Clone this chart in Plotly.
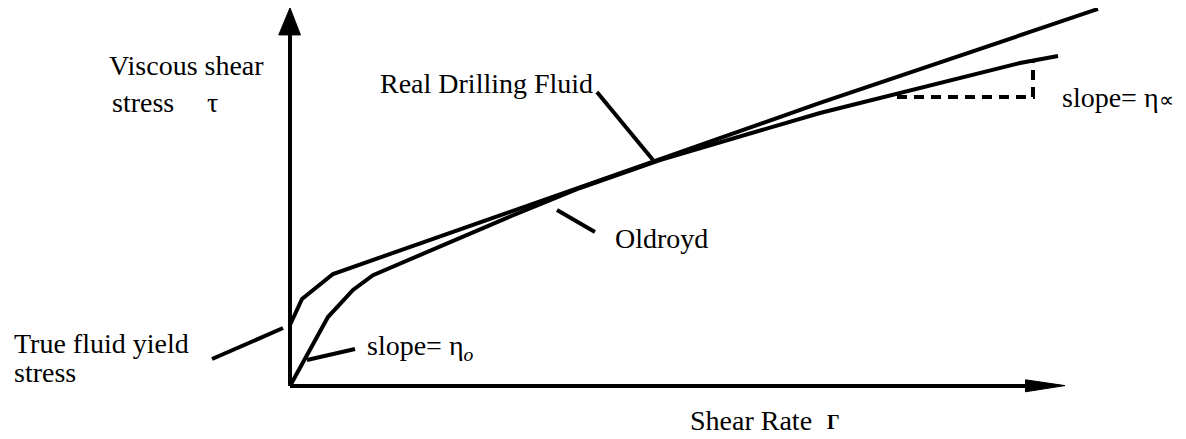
import plotly.graph_objects as go

# Curve readings (arbitrary units: shear rate on x, viscous shear stress on y)
real_x = [0, 1.55, 5.55, 28.0, 68.39, 104.26]
real_y = [7.87, 11.23, 14.45, 22.32, 36.52, 48.65]

oldroyd_x = [0, 4.9, 8.13, 10.71, 28.0, 37.42, 47.74, 68.39, 94.19, 99.10]
oldroyd_y = [0, 8.9, 12.39, 14.3, 21.7, 25.55, 29.16, 35.23, 41.68, 42.58]

# slope triangle (eta infinity) on the Oldroyd curve
tri_x = [78.32, 95.87, 95.87]
tri_y = [37.29, 37.29, 41.81]

FONT = "Liberation Serif, Times New Roman, serif"
BLACK = "#000000"
LW = 4

fig = go.Figure()
fig.add_trace(go.Scatter(x=real_x, y=real_y, mode="lines", name="Real Drilling Fluid",
                         line=dict(color=BLACK, width=LW), hoverinfo="skip"))
fig.add_trace(go.Scatter(x=oldroyd_x, y=oldroyd_y, mode="lines", name="Oldroyd",
                         line=dict(color=BLACK, width=LW), hoverinfo="skip"))
fig.add_trace(go.Scatter(x=tri_x, y=tri_y, mode="lines", name="slope",
                         line=dict(color=BLACK, width=LW, dash="10px,7px"), hoverinfo="skip"))

shapes = []
# axes
shapes.append(dict(type="line", xref="x", yref="y", x0=0, y0=0, x1=0, y1=45.6,
                   line=dict(color=BLACK, width=LW)))
shapes.append(dict(type="path", xref="x", yref="y",
                   path="M -1.45,45.3 L 1.35,45.3 L 0,48.8 Z",
                   fillcolor=BLACK, line=dict(color=BLACK, width=1)))
shapes.append(dict(type="line", xref="x", yref="y", x0=0, y0=0, x1=95.5, y1=0,
                   line=dict(color=BLACK, width=LW)))
shapes.append(dict(type="path", xref="x", yref="y",
                   path="M 94.9,0.8 L 100.0,0.05 L 94.9,-0.75 Z",
                   fillcolor=BLACK, line=dict(color=BLACK, width=1)))

# leader lines
leaders = [
    (-10.06, 3.48, -0.9, 7.48),    # true fluid yield stress
    (2.19, 3.35, 8.39, 4.77),      # slope = eta_o
    (39.6, 37.94, 46.84, 29.16),   # real drilling fluid
    (34.45, 22.71, 39.35, 19.87),  # oldroyd
]
for x0, y0, x1, y1 in leaders:
    shapes.append(dict(type="line", xref="x", yref="y", x0=x0, y0=y0, x1=x1, y1=y1,
                       line=dict(color=BLACK, width=LW)))

def label(text, x, y, size=28, anchor="left"):
    return dict(text=text, x=x, y=y, xref="x", yref="y", showarrow=False,
                xanchor=anchor, yanchor="middle",
                font=dict(family=FONT, size=size, color=BLACK))

annotations = [
    label("Viscous shear", -23.61, 41.35),
    label("stress", -23.23, 36.6),
    label("τ", -10.97, 36.6),
    label("Real Drilling Fluid", 11.35, 39.03),
    label("Oldroyd", 41.68, 19.03),
    label("slope= η<span style='font-size:21px'>∝</span>", 99.35, 37.23),
    label("slope= η<sub><i>o</i></sub>", 9.68, 5.0),
    label("True fluid yield", -35.87, 5.48),
    label("stress", -35.87, 1.74),
    label("Shear Rate", 51.4, -4.45),
    label("<b>Γ</b>", 69.03, -4.6, size=20),
]

# page body has an 8px default margin; the figure is sized to fit the window
fig.update_layout(
    width=1178, height=431, autosize=False,
    margin=dict(l=0, r=0, t=0, b=0, pad=0),
    paper_bgcolor="white", plot_bgcolor="white",
    showlegend=False,
    xaxis=dict(range=[-36.387, 115.613], visible=False, fixedrange=True),
    yaxis=dict(range=[-6.839, 48.774], visible=False, fixedrange=True),
    shapes=shapes,
    annotations=annotations,
)

fig.write_html("out.html")
